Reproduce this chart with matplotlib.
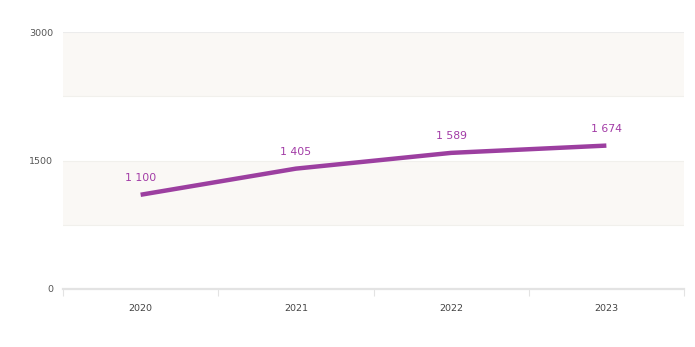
import matplotlib
matplotlib.use('Agg')
import matplotlib.pyplot as plt
import numpy as np

years = ['2020', '2021', '2022', '2023']
values = [1100, 1405, 1589, 1674]
value_labels = ['1 100', '1 405', '1 589', '1 674']
y_ticks = [0, 1500, 3000]
y_tick_labels = ['0', '1500', '3000']

purple = '#9c3fa0'
label_purple = '#a23ba6'

plt.rcParams['font.family'] = ['DejaVu Sans']

fig = plt.figure(figsize=(6.95, 3.47), dpi=100)
ax = fig.add_axes([63 / 695, 1 - 289 / 347, 621 / 695, 257 / 347])

x = np.arange(len(years))
ax.set_xlim(-0.5, len(years) - 0.5)
ax.set_ylim(0, 3000)

# alternating bands
ax.axhspan(2250, 3000, facecolor='#faf8f5', edgecolor='none', zorder=0)
ax.axhspan(750, 1500, facecolor='#faf8f5', edgecolor='none', zorder=0)
for yy in [3000, 2250, 1500, 750]:
    ax.axhline(yy, color='#ececec' if yy == 3000 else '#f1f0ec', lw=0.8, zorder=0.5)

ax.plot(x, values, color=purple, lw=3.2, solid_capstyle='butt', zorder=3)
for xi, v, lab in zip(x, values, value_labels):
    ax.annotate(lab, (xi, v), xytext=(0, 12), textcoords='offset points',
                ha='center', va='center', fontsize=7.8, color=label_purple)

for s in ['top', 'right', 'left']:
    ax.spines[s].set_visible(False)
ax.spines['bottom'].set_color('#e3e3e3')
ax.spines['bottom'].set_linewidth(1.6)

ax.set_yticks(y_ticks)
ax.set_yticklabels(y_tick_labels)
ax.tick_params(axis='y', length=0, pad=7, labelsize=6.8, labelcolor='#555555')

ax.set_xticks(x)
ax.set_xticklabels(years)
ax.tick_params(axis='x', which='major', length=0, pad=11, labelsize=6.8, labelcolor='#444444')
ax.set_xticks(np.arange(-0.5, len(years)), minor=True)
ax.tick_params(axis='x', which='minor', length=5, width=0.8, color='#e3e3e3')

fig.savefig('out.png', dpi=100)
